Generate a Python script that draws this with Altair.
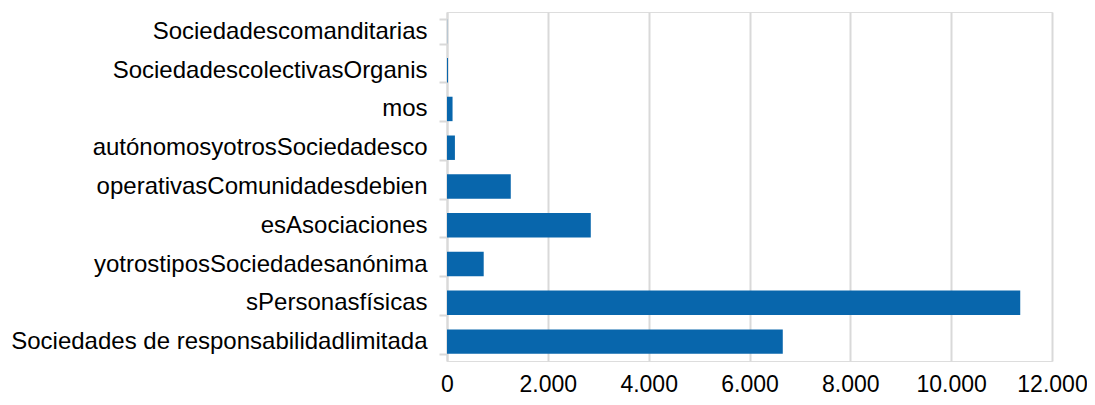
import altair as alt
import pandas as pd

categories = [
    "Sociedadescomanditarias",
    "SociedadescolectivasOrganis",
    "mos",
    "autónomosyotrosSociedadesco",
    "operativasComunidadesdebien",
    "esAsociaciones",
    "yotrostiposSociedadesanónima",
    "sPersonasfísicas",
    "Sociedades de responsabilidadlimitada",
]
values = [3, 20, 110, 157, 1265, 2852, 728, 11370, 6660]
x_ticks = [0, 2000, 4000, 6000, 8000, 10000, 12000]

df = pd.DataFrame({"cat": categories, "val": values})

chart = alt.Chart(df).mark_bar(color="#0866ac").encode(
    y=alt.Y(
        "cat:N",
        sort=categories,
        title=None,
        scale=alt.Scale(paddingInner=0.37, paddingOuter=0.185),
        axis=alt.Axis(
            domain=True,
            domainColor="#d9d9d9",
            domainWidth=2,
            ticks=True,
            tickBand="extent",
            tickColor="#d9d9d9",
            tickWidth=2,
            tickSize=8,
            labelPadding=12,
            labelFont="Liberation Sans",
            labelFontSize=24,
            labelColor="#000000",
            labelOverlap=False,
            grid=False,
            labelLimit=700,
        ),
    ),
    x=alt.X(
        "val:Q",
        title=None,
        scale=alt.Scale(domain=[0, 12000], nice=False),
        axis=alt.Axis(
            values=x_ticks,
            domain=False,
            ticks=False,
            grid=True,
            gridColor="#d9d9d9",
            gridWidth=2,
            labelPadding=12,
            labelFont="Liberation Sans",
            labelFontSize=23,
            labelColor="#000000",
            labelOverlap=False,
            labelFlush=False,
            labelExpr="replace(format(datum.value, ','), ',', '.')",
        ),
    ),
).properties(
    width=605,
    height=349,
    autosize=alt.AutoSizeParams(type="none"),
).configure_view(stroke=None).configure(
    padding={"left": 439, "top": 4, "right": 35, "bottom": 36}
)

chart.save("out.html", embed_options={"renderer": "svg", "actions": False})
